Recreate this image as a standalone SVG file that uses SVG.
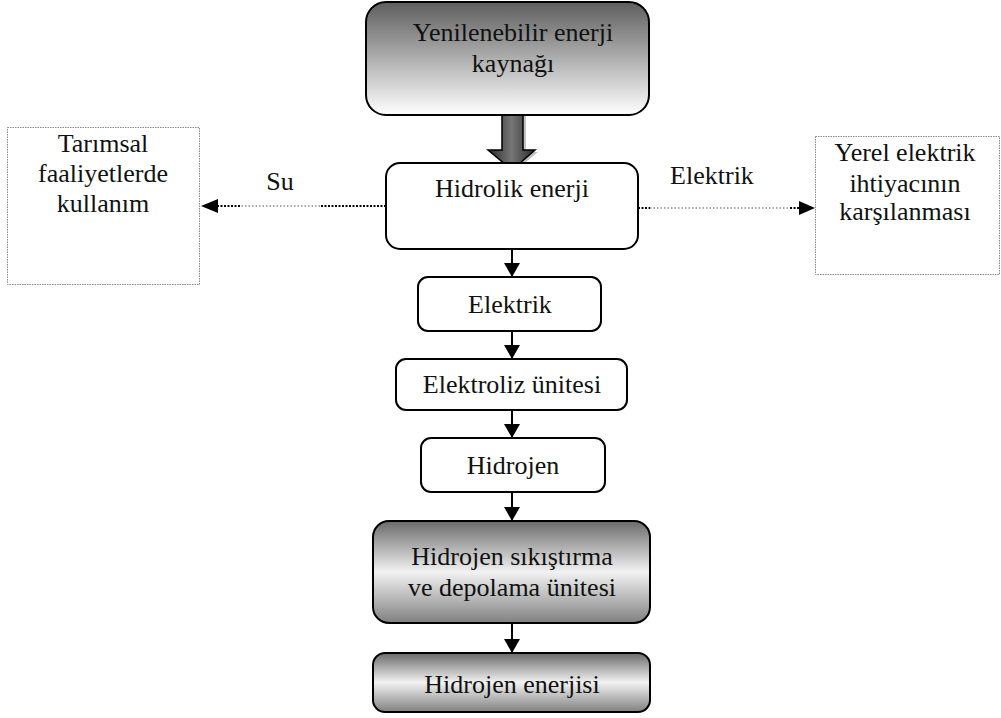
<svg xmlns="http://www.w3.org/2000/svg" width="1001" height="718" viewBox="0 0 1001 718">
<style>
text{font-family:'Liberation Serif',serif;font-size:26px;fill:#111;text-anchor:middle}
.box{fill:#fff;stroke:#000;stroke-width:2}
.gbox{stroke:#000;stroke-width:2}
.side{fill:#fff;stroke:#888;stroke-width:1;stroke-dasharray:1.5,1}
.conn{stroke:#000;stroke-width:2;fill:none}
.dotk{stroke:#000;stroke-width:2;stroke-dasharray:2,1.5;fill:none}
.dott{stroke:#555;stroke-width:1;stroke-dasharray:1.5,2;fill:none}
</style>
<defs>
<linearGradient id="gTop" x1="0" y1="0" x2="0" y2="1">
<stop offset="0" stop-color="#5e5e5e"/>
<stop offset="1" stop-color="#ffffff"/>
</linearGradient>
<linearGradient id="gMid" x1="0" y1="0" x2="0" y2="1">
<stop offset="0" stop-color="#6a6a6a"/>
<stop offset="0.5" stop-color="#f2f2f2"/>
<stop offset="1" stop-color="#808080"/>
</linearGradient>
<linearGradient id="gArrow" x1="0" y1="0" x2="1" y2="0">
<stop offset="0" stop-color="#2a2a2a"/>
<stop offset="0.5" stop-color="#777"/>
<stop offset="1" stop-color="#2a2a2a"/>
</linearGradient>
<marker id="ah" viewBox="0 0 14 16" refX="14" refY="8" markerWidth="14" markerHeight="16" orient="auto" markerUnits="userSpaceOnUse">
<path d="M0,0 L14,8 L0,16 z" fill="#000"/>
</marker>
</defs>

<g id="connectors">
<path d="M512 249 V277" class="conn" marker-end="url(#ah)"/>
<path d="M512 331 V359" class="conn" marker-end="url(#ah)"/>
<path d="M512 410 V438" class="conn" marker-end="url(#ah)"/>
<path d="M512 492 V521" class="conn" marker-end="url(#ah)"/>
<path d="M512 623 V653" class="conn" marker-end="url(#ah)"/>
<path d="M386 206 H320" class="dotk"/>
<path d="M320 206 H240" class="dott"/>
<path d="M240 206 H216" class="dotk"/>
<path d="M218 199 L201 206 L218 213 z" fill="#000"/>
<path d="M638 208 H650" class="dotk"/>
<path d="M650 208 H790" class="dott"/>
<path d="M790 208 H800" class="dotk"/>
<path d="M799 201 L815 208 L799 215 z" fill="#000"/>
<g id="bigArrow">
<path d="M505 109 H526 V152 H538 L514 172 L490 152 H505 Z" fill="#999" opacity="0.6"/>
<path d="M502 107 H523 V150 H535 L512 170 L488 150 H502 Z" fill="url(#gArrow)" stroke="#000" stroke-width="1.5"/>
</g>
<text x="280" y="190">Su</text>
<text x="712" y="184">Elektrik</text>
</g>

<g id="n-yenilenebilir">
<rect x="366" y="2" width="283" height="113" rx="20" class="gbox" fill="url(#gTop)"/>
<text x="513" y="41">Yenilenebilir enerji</text>
<text x="513" y="72">kaynağı</text>
</g>

<g id="n-hidrolik">
<rect x="386" y="163" width="252" height="86" rx="14" class="box"/>
<text x="512" y="197">Hidrolik enerji</text>
</g>

<g id="n-tarimsal">
<rect x="7.5" y="127.5" width="192" height="157" class="side"/>
<text x="103" y="152">Tarımsal</text>
<text x="103" y="182">faaliyetlerde</text>
<text x="103" y="212">kullanım</text>
</g>

<g id="n-yerel">
<rect x="815.5" y="136.5" width="184" height="138" class="side"/>
<text x="905" y="161">Yerel elektrik</text>
<text x="905" y="192">ihtiyacının</text>
<text x="905" y="220">karşılanması</text>
</g>

<g id="n-elektrik">
<rect x="418" y="277" width="183" height="54" rx="10" class="box"/>
<text x="510" y="313">Elektrik</text>
</g>

<g id="n-elektroliz">
<rect x="396" y="359" width="231" height="51" rx="10" class="box"/>
<text x="512" y="393">Elektroliz ünitesi</text>
</g>

<g id="n-hidrojen">
<rect x="421" y="438" width="184" height="54" rx="10" class="box"/>
<text x="513" y="474">Hidrojen</text>
</g>

<g id="n-sikistirma">
<rect x="373" y="521" width="277" height="102" rx="16" class="gbox" fill="url(#gMid)"/>
<text x="512" y="565">Hidrojen sıkıştırma</text>
<text x="512" y="596">ve depolama ünitesi</text>
</g>

<g id="n-enerji">
<rect x="373" y="653" width="277" height="59" rx="12" class="gbox" fill="url(#gMid)"/>
<text x="512" y="693">Hidrojen enerjisi</text>
</g>
</svg>
